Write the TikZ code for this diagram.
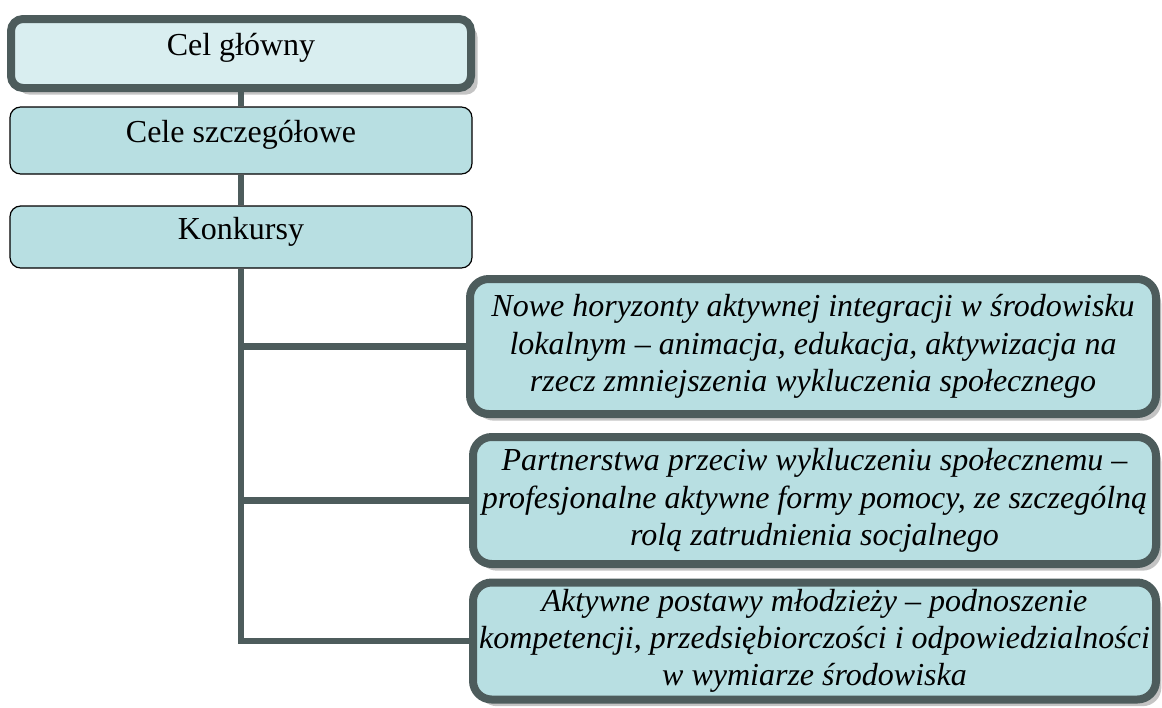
\documentclass[tikz,border=0pt]{standalone}
\usepackage{fontspec}
\setmainfont{Liberation Serif}
\usetikzlibrary{shadows}
\definecolor{linegray}{HTML}{4D5C5C}
\definecolor{boxfill}{HTML}{B8DFE2}
\definecolor{topfill}{HTML}{D9EEF0}
\definecolor{shadowgray}{HTML}{C4C4C4}

\begin{document}
\begin{tikzpicture}[x=0.75pt,y=-0.75pt,
        goalbox/.style={draw=linegray,line width=6pt,rounded corners=9pt,fill=topfill,
            minimum width=345pt,minimum height=51.75pt,inner sep=0pt,
            text height=17pt,text depth=13.5pt,font=\fontsize{24}{28}\selectfont,
            drop shadow={shadow xshift=5pt,shadow yshift=-5pt,fill=shadowgray,opacity=1}},
        levelbox/.style={draw=black,line width=0.9pt,rounded corners=8pt,fill=boxfill,
            minimum width=346.5pt,inner sep=0pt,
            text height=17pt,text depth=13.5pt,font=\fontsize{24}{28}\selectfont},
        contestbox/.style={draw=linegray,line width=6pt,rounded corners=14pt,fill=boxfill,
            inner sep=0pt,align=center,font=\itshape\fontsize{24}{28}\selectfont,
            drop shadow={shadow xshift=4pt,shadow yshift=-5pt,fill=shadowgray,opacity=1}},
        link/.style={draw=linegray,line width=5pt}]
    \useasboundingbox (0,0) rectangle (1162,707);
    % Draw the goal boxes on the left
    \node[goalbox] (glowny) at (241,53.5) {Cel główny};
    \node[levelbox,minimum height=50.25pt] (szczegolowe) at (241,140.5) {Cele szczegółowe};
    \node[levelbox,minimum height=46.5pt] (konkursy) at (241,237) {Konkursy};
    % Draw the contest boxes on the right
    \node[contestbox,minimum width=514.5pt,minimum height=101.25pt] (horyzonty) at (813,346.5)
        {Nowe horyzonty aktywnej integracji w środowisku\\
         lokalnym – animacja, edukacja, aktywizacja na\\
         rzecz zmniejszenia wykluczenia społecznego};
    \node[contestbox,minimum width=512.25pt,minimum height=95.25pt] (partnerstwa) at (814.5,500.5)
        {Partnerstwa przeciw wykluczeniu społecznemu –\\
         profesjonalne aktywne formy pomocy, ze szczególną\\
         rolą zatrudnienia socjalnego};
    \node[contestbox,minimum width=512.25pt,minimum height=87.75pt] (postawy) at (814.5,641)
        {Aktywne postawy młodzieży – podnoszenie\\
         kompetencji, przedsiębiorczości i odpowiedzialności\\
         w wymiarze środowiska};
    % Draw the connectors
    \draw[link] (glowny) -- (szczegolowe);
    \draw[link] (szczegolowe) -- (konkursy);
    \draw[link] (konkursy.south) |- (horyzonty.west);
    \draw[link] (konkursy.south) |- (partnerstwa.west);
    \draw[link] (konkursy.south) |- (postawy.west);
\end{tikzpicture}
\end{document}
